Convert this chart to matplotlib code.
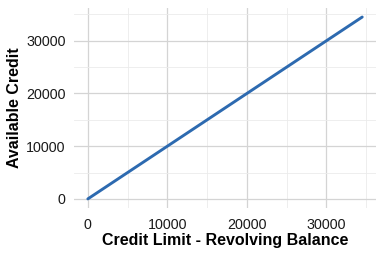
import matplotlib
matplotlib.use("Agg")
import matplotlib.pyplot as plt
from matplotlib.ticker import MultipleLocator

# Credit limit minus revolving balance vs available credit (points lie on y = x)
limit_minus_balance = [0, 2500, 5000, 7500, 10000, 12500, 15000, 17500,
                       20000, 22500, 25000, 27500, 30000, 32500, 34500]
available_credit = [0, 2500, 5000, 7500, 10000, 12500, 15000, 17500,
                    20000, 22500, 25000, 27500, 30000, 32500, 34500]
x_ticks = [0, 10000, 20000, 30000]
y_ticks = [0, 10000, 20000, 30000]

plt.rcParams['font.family'] = ['Liberation Sans', 'DejaVu Sans']

fig = plt.figure(figsize=(3.84, 2.56), dpi=100)
ax = fig.add_axes([0.193, 0.1875, 0.786, 0.7815])

ax.plot(limit_minus_balance, available_credit, color='#2D6AB0', linewidth=2.1,
        solid_capstyle='round', zorder=3)

# ggplot-style expansion of 5%
lo, hi = min(limit_minus_balance), max(limit_minus_balance)
pad = (hi - lo) * 0.05
ax.set_xlim(lo - pad, hi + pad)
lo, hi = min(available_credit), max(available_credit)
pad = (hi - lo) * 0.05
ax.set_ylim(lo - pad, hi + pad)

ax.set_xticks(x_ticks)
ax.set_yticks(y_ticks)
ax.set_xticklabels([str(v) for v in x_ticks])
ax.set_yticklabels([str(v) for v in y_ticks])
ax.xaxis.set_minor_locator(MultipleLocator(5000))
ax.yaxis.set_minor_locator(MultipleLocator(5000))

ax.grid(True, which='major', color='#D4D4D4', linewidth=0.9)
ax.grid(True, which='minor', color='#EBEBEB', linewidth=0.6)
ax.set_axisbelow(True)
for s in ax.spines.values():
    s.set_visible(False)
ax.tick_params(which='both', length=0)
ax.tick_params(axis='x', labelsize=10.3, colors='#1A1A1A', pad=7)
ax.tick_params(axis='y', labelsize=10.3, colors='#1A1A1A', pad=6)

ax.set_xlabel("Credit Limit - Revolving Balance", fontsize=11.5,
              fontweight='bold', labelpad=1)
ax.set_ylabel("Available Credit", fontsize=11.5, fontweight='bold', labelpad=3)

fig.savefig("out.png", dpi=100)
